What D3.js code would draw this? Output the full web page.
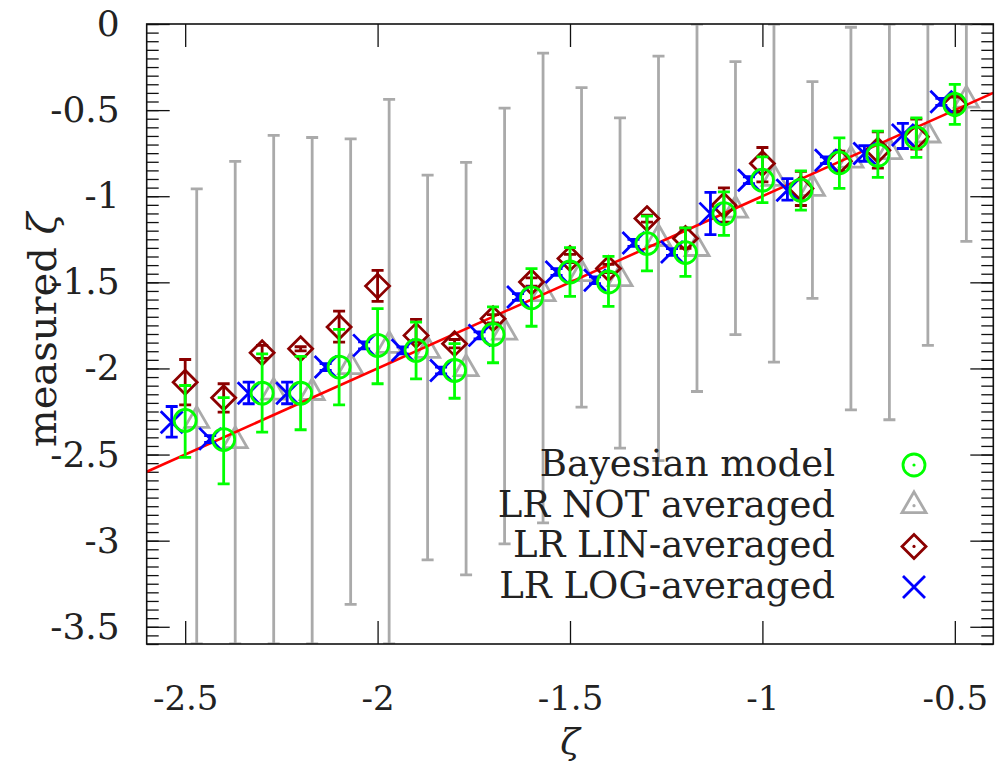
<!DOCTYPE html>
<html>
<head>
<meta charset="utf-8">
<script src="https://cdnjs.cloudflare.com/ajax/libs/d3/7.8.5/d3.min.js"></script>
<style>
  body { margin: 0; background: #fff; }
  svg text { fill: #222; font-family: "DejaVu Serif", "Liberation Serif", serif; }
</style>
</head>
<body>
<div id="chart"></div>
<script>
// true zeta of each point
const zeta = [-2.5, -2.4, -2.3, -2.2, -2.1, -2.0, -1.9, -1.8, -1.7, -1.6, -1.5,
              -1.4, -1.3, -1.2, -1.1, -1.0, -0.9, -0.8, -0.7, -0.6, -0.5];

// Bayesian model
const bayesVal = [-2.302, -2.413, -2.144, -2.144, -1.992, -1.866, -1.895, -2.012, -1.803, -1.590, -1.440,
                  -1.498, -1.275, -1.327, -1.101, -0.907, -0.965, -0.806, -0.762, -0.661, -0.467];
const bayesLo  = [-2.516, -2.670, -2.370, -2.356, -2.211, -2.089, -2.060, -2.173, -1.967, -1.755, -1.581,
                  -1.640, -1.434, -1.465, -1.227, -1.037, -1.081, -0.955, -0.891, -0.775, -0.583];
const bayesHi  = [-2.099, -2.170, -1.915, -1.930, -1.773, -1.653, -1.731, -1.856, -1.642, -1.420, -1.298,
                  -1.349, -1.116, -1.184, -0.975, -0.771, -0.853, -0.661, -0.622, -0.545, -0.351];

// LR NOT averaged
const notVal = [-2.302, -2.419, -2.138, -2.140, -1.990, -1.866, -1.895, -2.002, -1.789, -1.566, -1.450,
                -1.479, -1.246, -1.304, -1.081, -0.897, -0.955, -0.791, -0.742, -0.645, -0.442];
const notLo  = [-3.6, -3.6, -3.6, -3.6, -3.370, -3.6, -3.112, -3.199, -3.019, -2.897, -2.225,
                -2.463, -2.535, -2.134, -1.804, -1.963, -1.593, -2.240, -2.298, -1.866, -1.262];
const notHi  = [-0.957, -0.798, -0.647, -0.659, -0.667, -0.438, -0.878, -0.804, -0.488, -0.169, -0.370,
                -0.545, -0.186, 0, -0.219, 0, -0.335, -0.019, 0, 0, 0];

// LR LIN-averaged
const linVal = [-2.080, -2.170, -1.909, -1.886, -1.760, -1.522, -1.808, -1.856, -1.711, -1.498, -1.362,
                -1.420, -1.130, -1.246, -1.052, -0.810, -0.955, -0.797, -0.733, -0.655, -0.467];
const linLo  = [-2.211, -2.254, -1.942, -1.898, -1.847, -1.610, -1.847, -1.880, -1.735, -1.522, -1.386,
                -1.444, -1.150, -1.302, -1.151, -0.917, -1.054, -0.855, -0.837, -0.727, -0.508];
const linHi  = [-1.948, -2.089, -1.866, -1.874, -1.667, -1.430, -1.715, -1.832, -1.687, -1.474, -1.338,
                -1.396, -1.110, -1.186, -0.952, -0.717, -0.856, -0.739, -0.626, -0.552, -0.424];

// LR LOG-averaged
const logVal = [-2.312, -2.409, -2.144, -2.144, -1.992, -1.866, -1.895, -2.012, -1.808, -1.585, -1.440,
                -1.488, -1.271, -1.324, -1.101, -0.907, -0.965, -0.791, -0.752, -0.645, -0.452];
const logLo  = [-2.399, -2.430, -2.205, -2.205, -2.012, -1.886, -1.915, -2.032, -1.828, -1.605, -1.460,
                -1.508, -1.291, -1.344, -1.223, -0.927, -1.023, -0.811, -0.797, -0.723, -0.472];
const logHi  = [-2.221, -2.390, -2.080, -2.080, -1.972, -1.846, -1.875, -1.992, -1.788, -1.565, -1.420,
                -1.468, -1.251, -1.304, -0.978, -0.887, -0.898, -0.771, -0.707, -0.577, -0.432];

const xTicks = [-2.5, -2, -1.5, -1, -0.5];
const yTicks = [0, -0.5, -1, -1.5, -2, -2.5, -3, -3.5];

const width = 1001, height = 765;
const margin = {top: 24, right: 7.7, bottom: 121, left: 146.7};

const svg = d3.select('#chart').append('svg')
  .attr('width', width)
  .attr('height', height);

const x = d3.scaleLinear().domain([-2.6, -0.4]).range([margin.left, width - margin.right]);
const y = d3.scaleLinear().domain([-3.6, 0]).range([height - margin.bottom, margin.top]);

svg.append('clipPath').attr('id', 'clip')
  .append('rect')
  .attr('x', x(-2.6)).attr('y', y(0))
  .attr('width', x(-0.4) - x(-2.6)).attr('height', y(-3.6) - y(0));

// ticks (inward), labels
const fmt = d => String(d);
const minorY = d3.range(0, 73).map(i => -i * 0.05);

svg.append('g')
  .attr('transform', `translate(${x(-2.6)},0)`)
  .call(d3.axisLeft(y).tickValues(minorY).tickSize(-12).tickFormat(''))
  .call(g => g.select('.domain').remove());
svg.append('g')
  .attr('transform', `translate(${x(-0.4)},0)`)
  .call(d3.axisRight(y).tickValues(minorY).tickSize(-12).tickFormat(''))
  .call(g => g.select('.domain').remove());

svg.append('g')
  .attr('class', 'yaxis')
  .attr('transform', `translate(${x(-2.6)},0)`)
  .call(d3.axisLeft(y).tickValues(yTicks).tickSize(-23).tickPadding(27).tickFormat(fmt))
  .call(g => g.select('.domain').remove());
svg.append('g')
  .attr('transform', `translate(${x(-0.4)},0)`)
  .call(d3.axisRight(y).tickValues(yTicks).tickSize(-23).tickFormat(''))
  .call(g => g.select('.domain').remove());

svg.append('g')
  .attr('class', 'xaxis')
  .attr('transform', `translate(0,${y(-3.6)})`)
  .call(d3.axisBottom(x).tickValues(xTicks).tickSize(-23).tickPadding(42).tickFormat(fmt))
  .call(g => g.select('.domain').remove());
svg.append('g')
  .attr('transform', `translate(0,${y(0)})`)
  .call(d3.axisTop(x).tickValues(xTicks).tickSize(-23).tickFormat(''))
  .call(g => g.select('.domain').remove());

svg.selectAll('.tick line').attr('stroke', '#111').attr('stroke-width', 1.3);
svg.selectAll('.yaxis, .xaxis').attr('font-family', null);
svg.selectAll('.yaxis text')
  .style('font-size', '36px')
  .attr('fill', '#222');
svg.selectAll('.xaxis text')
  .style('font-size', '34px')
  .attr('fill', '#222');

// gray error bars of LR NOT averaged + red y = x line underneath the markers
const plot = svg.append('g').attr('clip-path', 'url(#clip)');

function errorBars(g, vals, lo, hi, dx, color) {
  const data = zeta.map((z, i) => ({z: z + dx, v: vals[i], lo: lo[i], hi: hi[i]}));
  const eb = g.append('g').attr('stroke', color).attr('stroke-width', 2.8).attr('fill', 'none');
  eb.selectAll('path').data(data).enter().append('path')
    .attr('d', d => {
      const cx = x(d.z), y0 = y(d.lo), y1 = y(d.hi);
      return `M${cx},${y0}V${y1}M${cx - 6},${y0}H${cx + 6}M${cx - 6},${y1}H${cx + 6}`;
    });
  return data;
}

const markerPaths = {
  circle: d3.symbol(d3.symbolCircle, Math.PI * 11 * 11)(),
  triangle: d3.symbol(d3.symbolTriangle, 250)(),
  diamond: 'M0,-12L12,0L0,12L-12,0Z',
  cross: 'M-11,-11L11,11M-11,11L11,-11'
};

function markers(g, data, shape, color) {
  const m = g.append('g');
  m.selectAll('path').data(data).enter().append('path')
    .attr('transform', d => `translate(${x(d.z)},${y(d.v)})`)
    .attr('d', markerPaths[shape])
    .attr('fill', 'none')
    .attr('stroke', color)
    .attr('stroke-width', 2.8);
}

const notData = errorBars(plot, notVal, notLo, notHi, 0.03, '#aaaaaa');
markers(plot, notData, 'triangle', '#aaaaaa');

plot.append('line')
  .attr('x1', x(-2.6)).attr('y1', y(-2.6))
  .attr('x2', x(-0.4)).attr('y2', y(-0.4))
  .attr('stroke', '#ff0000').attr('stroke-width', 2.6);

const linData = errorBars(plot, linVal, linLo, linHi, 0, '#8b0000');
markers(plot, linData, 'diamond', '#8b0000');

const logData = errorBars(plot, logVal, logLo, logHi, -0.035, '#0000ff');
markers(plot, logData, 'cross', '#0000ff');

const bayesData = errorBars(plot, bayesVal, bayesLo, bayesHi, 0, '#00ff00');
markers(plot, bayesData, 'circle', '#00ff00');

// frame
svg.append('rect')
  .attr('x', x(-2.6)).attr('y', y(0))
  .attr('width', x(-0.4) - x(-2.6)).attr('height', y(-3.6) - y(0))
  .attr('fill', 'none').attr('stroke', '#111').attr('stroke-width', 1.6);

// axis titles
svg.append('text')
  .attr('x', (x(-2.6) + x(-0.4)) / 2).attr('y', 754)
  .attr('text-anchor', 'middle')
  .style('font-size', '36px').style('font-style', 'italic')
  .text('ζ');

svg.append('text')
  .attr('transform', `translate(56,${(y(0) + y(-3.6)) / 2 - 4}) rotate(-90)`)
  .attr('text-anchor', 'middle')
  .style('font-size', '40px')
  .text('measured ')
  .append('tspan').style('font-style', 'italic').text('ζ');

// legend
const legendItems = [
  {label: 'Bayesian model', shape: 'circle', color: '#00ff00'},
  {label: 'LR NOT averaged', shape: 'triangle', color: '#aaaaaa'},
  {label: 'LR LIN-averaged', shape: 'diamond', color: '#8b0000'},
  {label: 'LR LOG-averaged', shape: 'cross', color: '#0000ff'}
];
const legend = svg.append('g');
const row = legend.selectAll('g').data(legendItems).enter().append('g')
  .attr('transform', (d, i) => `translate(0,${465 + i * 40.7})`);
row.append('text')
  .attr('x', 835).attr('y', 11)
  .attr('text-anchor', 'end')
  .style('font-size', '37px')
  .text(d => d.label);
row.append('path')
  .attr('transform', 'translate(914,0)')
  .attr('d', d => markerPaths[d.shape])
  .attr('fill', 'none')
  .attr('stroke', d => d.color)
  .attr('stroke-width', 2.8);
row.append('circle')
  .attr('cx', 914).attr('cy', 0).attr('r', 1.6)
  .attr('fill', d => d.color);
</script>
</body>
</html>
